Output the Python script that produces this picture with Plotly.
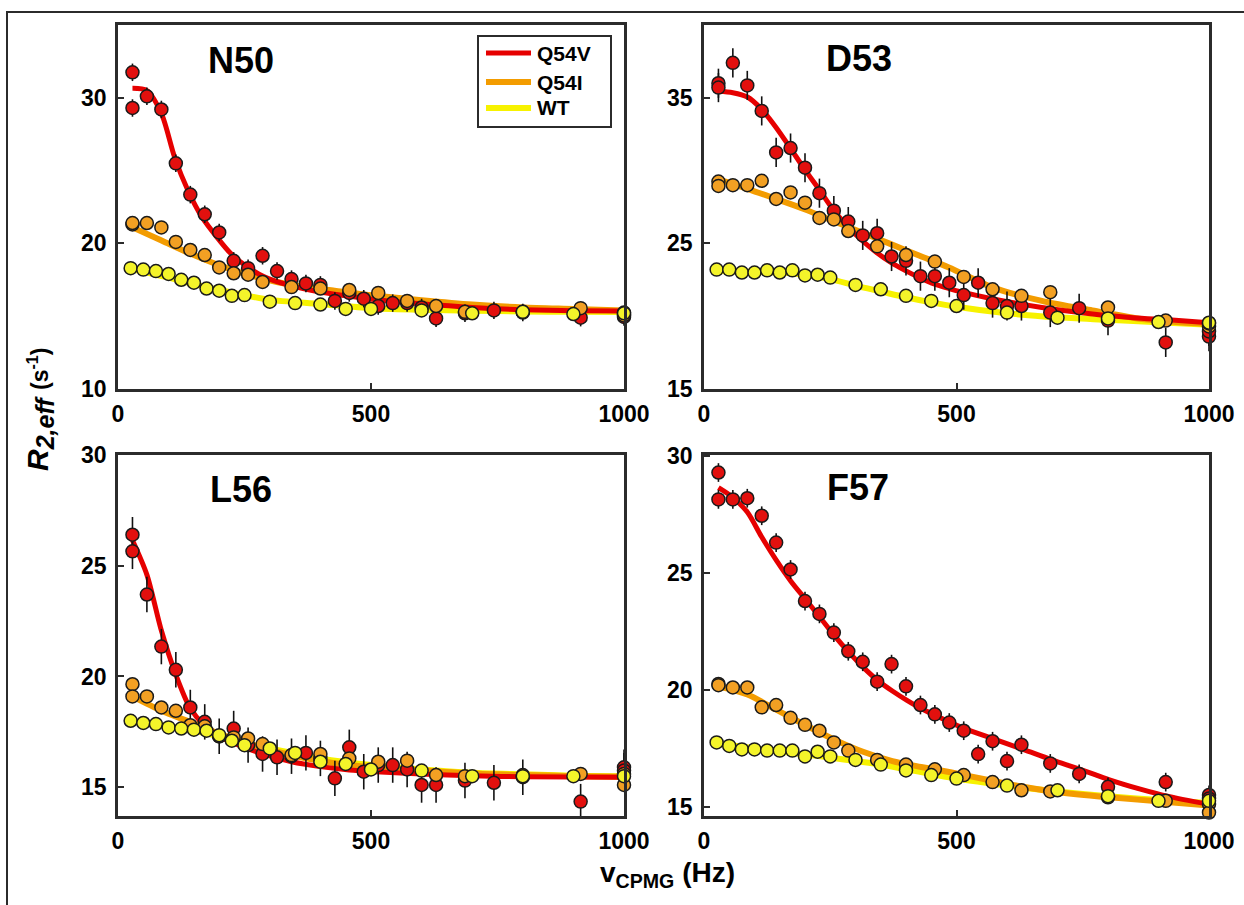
import plotly.graph_objects as go

W, H = 1244, 905
FONT = 'Arial, "Liberation Sans", sans-serif'
INK = '#2b2b2b'

# CPMG frequencies (Hz); mutants recorded with T = 35 ms, WT with T = 40 ms
X_Q54V = [28.6, 28.6, 57.1, 85.7, 114.3, 142.9, 171.4, 200.0, 228.6, 257.1, 285.7, 314.3,
          342.9, 371.4, 400.0, 428.6, 457.1, 485.7, 514.3, 542.9, 571.4, 600.0, 628.6,
          685.7, 742.9, 800.0, 914.3, 1000.0, 1000.0]
X_Q54I = [28.6, 28.6, 57.1, 85.7, 114.3, 142.9, 171.4, 200.0, 228.6, 257.1, 285.7, 342.9,
          400.0, 457.1, 514.3, 571.4, 628.6, 685.7, 800.0, 914.3, 1000.0, 1000.0]
X_WT = [25, 50, 75, 100, 125, 150, 175, 200, 225, 250, 300, 350, 400, 450, 500, 600, 700,
        800, 900, 1000]

# ---- N50
N50_Q54V = [31.75, 29.3, 30.1, 29.2, 25.5, 23.35, 22.0, 20.75, 18.8, 18.3, 19.15, 18.1, 17.55,
            17.25, 17.15, 16.05, 16.6, 16.2, 15.7, 15.9, 15.9, 15.6, 14.85, 15.2, 15.4, 15.25,
            14.9, 14.95, 15.1]
N50_Q54I = [21.3, 21.4, 21.4, 21.1, 20.1, 19.55, 19.2, 18.35, 17.95, 17.85, 17.35, 17.0, 16.9,
            16.8, 16.6, 16.05, 15.7, 15.3, 15.3, 15.55, 15.25, 15.05]
N50_WT = [18.3, 18.2, 18.1, 17.9, 17.5, 17.3, 16.9, 16.75, 16.4, 16.45, 16.0, 15.9, 15.8, 15.5,
          15.5, 15.4, 15.2, 15.3, 15.15, 15.2]
N50_FIT_Q54V_X = [28.6, 57, 86, 112, 138, 166, 195, 223, 251, 289, 336, 394, 450, 506, 600, 700, 800, 900, 1000]
N50_FIT_Q54V_Y = [30.65, 30.5, 28.9, 25.9, 23.65, 21.8, 20.45, 19.3, 18.5, 17.7, 17.15, 16.7, 16.4,
                  16.15, 15.85, 15.6, 15.45, 15.38, 15.35]
N50_FIT_Q54I_X = [28.6, 86, 143, 200, 257, 314, 371, 428, 485, 600, 700, 800, 900, 1000]
N50_FIT_Q54I_Y = [21.1, 20.2, 19.3, 18.5, 17.85, 17.35, 17.0, 16.75, 16.5, 16.1, 15.8, 15.6, 15.5, 15.4]
N50_FIT_WT_X = [25, 50, 100, 150, 200, 250, 300, 400, 500, 600, 700, 800, 900, 1000]
N50_FIT_WT_Y = [18.25, 18.05, 17.65, 17.2, 16.8, 16.45, 16.12, 15.84, 15.55, 15.45, 15.38, 15.33, 15.3, 15.28]

# ---- D53
D53_Q54V = [36.0, 35.7, 37.4, 35.85, 34.1, 31.25, 31.55, 30.2, 28.45, 27.25, 26.5, 25.55, 25.7,
            24.1, 23.8, 22.75, 22.75, 22.3, 21.45, 22.3, 20.9, 20.7, 20.7, 20.25, 20.55, 19.7,
            18.2, 18.6, 18.95]
D53_Q54I = [29.25, 28.95, 29.0, 29.0, 29.3, 28.05, 28.5, 27.8, 26.75, 26.65, 25.85, 24.8, 24.2,
            23.75, 22.7, 21.85, 21.4, 21.65, 20.6, 19.7, 19.3, 19.5]
D53_WT = [23.2, 23.2, 23.0, 23.0, 23.15, 23.0, 23.15, 22.8, 22.85, 22.65, 22.15, 21.85, 21.4,
          21.05, 20.7, 20.25, 19.9, 19.85, 19.6, 19.55]
D53_FIT_Q54V_X = [28.6, 57, 86, 113, 142, 170, 199, 227, 255, 284, 313, 341, 370, 398, 427, 457,
                  485, 512, 570, 669, 769, 850, 920, 1000]
D53_FIT_Q54V_Y = [35.45, 35.35, 35.05, 34.25, 33.0, 31.6, 30.1, 28.75, 27.35, 26.2, 25.2, 24.4,
                  23.7, 23.15, 22.65, 22.2, 21.9, 21.65, 21.2, 20.6, 20.15, 19.9, 19.75, 19.55]
D53_FIT_Q54I_X = [28.6, 86, 143, 199, 255, 313, 370, 427, 485, 570, 669, 769, 868, 1000]
D53_FIT_Q54I_Y = [29.4, 28.75, 28.05, 27.35, 26.55, 25.75, 24.95, 24.15, 23.35, 22.0, 21.05, 20.4, 19.8, 19.45]
D53_FIT_WT_X = [25, 100, 175, 250, 300, 350, 400, 450, 500, 600, 700, 800, 900, 1000]
D53_FIT_WT_Y = [23.1, 23.05, 22.95, 22.55, 22.1, 21.7, 21.3, 20.95, 20.65, 20.2, 19.92, 19.75, 19.58, 19.42]

# ---- L56
L56_Q54V = [26.4, 25.65, 23.7, 21.35, 20.3, 18.6, 17.95, 17.3, 17.65, 16.9, 16.5, 16.35, 16.4,
            16.55, 16.3, 15.4, 16.8, 15.7, 16.0, 16.0, 15.8, 15.1, 15.1, 15.3, 15.2, 15.45,
            14.35, 15.9, 15.75]
L56_Q54I = [19.65, 19.1, 19.1, 18.6, 18.45, 17.8, 17.75, 17.3, 17.25, 17.2, 16.95, 16.45, 16.5,
            16.3, 16.15, 16.2, 15.55, 15.5, 15.55, 15.6, 15.6, 15.1]
L56_WT = [18.0, 17.9, 17.85, 17.7, 17.65, 17.6, 17.55, 17.35, 17.1, 16.9, 16.75, 16.55, 16.15,
          16.05, 15.8, 15.75, 15.5, 15.5, 15.5, 15.5]
L56_FIT_Q54V_X = [28.6, 57, 86, 114, 142, 170, 199, 228, 286, 343, 400, 457, 510, 600, 700, 800, 1000]
L56_FIT_Q54V_Y = [26.15, 24.6, 22.05, 20.1, 18.6, 17.8, 17.3, 17.0, 16.5, 16.15, 15.93, 15.78,
                  15.7, 15.6, 15.52, 15.47, 15.45]
L56_FIT_Q54I_X = [28.6, 86, 142, 199, 257, 314, 371, 428, 485, 600, 700, 800, 900, 1000]
L56_FIT_Q54I_Y = [19.1, 18.45, 17.95, 17.42, 16.97, 16.6, 16.3, 16.08, 15.93, 15.75, 15.62, 15.55, 15.5, 15.47]
L56_FIT_WT_X = [25, 100, 150, 200, 250, 300, 400, 500, 600, 700, 800, 900, 1000]
L56_FIT_WT_Y = [17.95, 17.75, 17.55, 17.3, 17.0, 16.75, 16.3, 16.0, 15.8, 15.65, 15.58, 15.52, 15.5]

# ---- F57
F57_Q54V = [29.3, 28.15, 28.15, 28.2, 27.45, 26.3, 25.15, 23.8, 23.25, 22.45, 21.65, 21.2, 20.35,
            21.1, 20.15, 19.35, 18.95, 18.6, 18.25, 17.25, 17.8, 16.95, 17.65, 16.85, 16.4,
            15.85, 16.05, 15.5, 15.35]
F57_Q54I = [20.25, 20.2, 20.1, 20.1, 19.25, 19.35, 18.8, 18.5, 18.25, 17.75, 17.4, 17.0, 16.8,
            16.6, 16.35, 16.05, 15.7, 15.65, 15.4, 15.25, 15.1, 14.75]
F57_WT = [17.75, 17.6, 17.45, 17.45, 17.4, 17.4, 17.4, 17.15, 17.35, 17.15, 17.0, 16.8, 16.55,
          16.35, 16.2, 15.9, 15.7, 15.45, 15.25, 15.25]
F57_FIT_Q54V_X = [28.6, 56, 86, 114, 143, 172, 200, 228, 257, 287, 315, 344, 373, 402, 430, 459,
                  488, 515, 573, 632, 689, 745, 803, 864, 917, 1000]
F57_FIT_Q54V_Y = [28.65, 28.25, 27.6, 26.55, 25.55, 24.65, 23.9, 23.15, 22.35, 21.6, 20.97, 20.4,
                  19.95, 19.55, 19.2, 18.9, 18.6, 18.35, 17.9, 17.45, 17.0, 16.6, 16.15, 15.75,
                  15.45, 15.1]
F57_FIT_Q54I_X = [28.6, 86, 143, 200, 257, 315, 373, 430, 488, 573, 632, 689, 803, 917, 1000]
F57_FIT_Q54I_Y = [20.15, 19.8, 19.15, 18.5, 17.88, 17.35, 16.95, 16.7, 16.47, 16.1, 15.85, 15.65, 15.4, 15.2, 15.05]
F57_FIT_WT_X = [25, 100, 175, 250, 300, 350, 400, 450, 500, 600, 700, 800, 900, 1000]
F57_FIT_WT_Y = [17.7, 17.5, 17.3, 17.1, 16.95, 16.8, 16.6, 16.4, 16.2, 15.9, 15.65, 15.45, 15.28, 15.15]

# approximate error bar half-heights of the Q54V points, one per panel
ERR_Q54V = {'N50': 0.6, 'D53': 1.0, 'L56': 0.8, 'F57': 0.4}

SERIES = ['Q54V', 'Q54I', 'WT']
LINE_COLOR = {'Q54V': '#e60000', 'Q54I': '#f39c00', 'WT': '#f7f200'}
MARKER_COLOR = {'Q54V': '#e2100e', 'Q54I': '#f2a023', 'WT': '#f4f42a'}
LINE_WIDTH = {'Q54V': 5, 'Q54I': 6, 'WT': 6}
X_OF = {'Q54V': X_Q54V, 'Q54I': X_Q54I, 'WT': X_WT}

PANELS = [
    {'name': 'N50', 'ax': '', 'yrange': [10, 35], 'yticks': [10, 20, 30],
     'pts': {'Q54V': N50_Q54V, 'Q54I': N50_Q54I, 'WT': N50_WT},
     'fit': {'Q54V': (N50_FIT_Q54V_X, N50_FIT_Q54V_Y), 'Q54I': (N50_FIT_Q54I_X, N50_FIT_Q54I_Y),
             'WT': (N50_FIT_WT_X, N50_FIT_WT_Y)}},
    {'name': 'D53', 'ax': '2', 'yrange': [15, 40], 'yticks': [15, 25, 35],
     'pts': {'Q54V': D53_Q54V, 'Q54I': D53_Q54I, 'WT': D53_WT},
     'fit': {'Q54V': (D53_FIT_Q54V_X, D53_FIT_Q54V_Y), 'Q54I': (D53_FIT_Q54I_X, D53_FIT_Q54I_Y),
             'WT': (D53_FIT_WT_X, D53_FIT_WT_Y)}},
    {'name': 'L56', 'ax': '3', 'yrange': [13.7, 30], 'yticks': [15, 20, 25, 30],
     'pts': {'Q54V': L56_Q54V, 'Q54I': L56_Q54I, 'WT': L56_WT},
     'fit': {'Q54V': (L56_FIT_Q54V_X, L56_FIT_Q54V_Y), 'Q54I': (L56_FIT_Q54I_X, L56_FIT_Q54I_Y),
             'WT': (L56_FIT_WT_X, L56_FIT_WT_Y)}},
    {'name': 'F57', 'ax': '4', 'yrange': [14.6, 30.05], 'yticks': [15, 20, 25, 30],
     'pts': {'Q54V': F57_Q54V, 'Q54I': F57_Q54I, 'WT': F57_WT},
     'fit': {'Q54V': (F57_FIT_Q54V_X, F57_FIT_Q54V_Y), 'Q54I': (F57_FIT_Q54I_X, F57_FIT_Q54I_Y),
             'WT': (F57_FIT_WT_X, F57_FIT_WT_Y)}},
]

# panel boxes in page pixels: (left, right, top, bottom)
BOXES = [(118, 624, 25, 389), (704, 1209, 25, 389), (118, 624, 455, 816), (704, 1209, 455, 816)]
TITLE_POS = [(241, 60), (859, 58), (241, 489), (858, 487)]


def px(x):
    return x / W


def py(y):
    return 1 - y / H


fig = go.Figure()
layout = dict(width=W, height=H, autosize=False,
              margin=dict(l=0, r=0, t=0, b=0, pad=0, autoexpand=False), showlegend=False,
              paper_bgcolor='white', plot_bgcolor='white', font=dict(family=FONT, color='black'))
annotations = []
shapes = []

for panel, box, tpos in zip(PANELS, BOXES, TITLE_POS):
    xa, ya = 'x' + panel['ax'], 'y' + panel['ax']
    # fitted curves underneath
    for s in ['WT', 'Q54I', 'Q54V']:
        fx, fy = panel['fit'][s]
        fig.add_trace(go.Scatter(x=fx, y=fy, mode='lines', xaxis=xa, yaxis=ya,
                                 line=dict(color=LINE_COLOR[s], width=LINE_WIDTH[s], shape='spline', smoothing=0.8),
                                 hoverinfo='skip'))
    # data points
    for s in SERIES:
        err = ERR_Q54V[panel['name']] if s == 'Q54V' else 0.15
        fig.add_trace(go.Scatter(x=X_OF[s], y=panel['pts'][s], mode='markers', xaxis=xa, yaxis=ya,
                                 name=s, cliponaxis=False,
                                 error_y=dict(type='constant', value=err, color='#111', thickness=1.6, width=0),
                                 marker=dict(size=13, color=MARKER_COLOR[s], line=dict(color='#1a1a1a', width=1.5))))

    l, r, t, b = box
    axis_common = dict(showline=True, linecolor=INK, linewidth=2.5, mirror=True, showgrid=False,
                       zeroline=False, ticks='inside', ticklen=6, tickwidth=2, tickcolor=INK,
                       automargin=False,
                       tickfont=dict(family=FONT, size=23, color='black', weight='bold'))
    layout['xaxis' + panel['ax']] = dict(axis_common, domain=[px(l), px(r)], range=[0, 1000],
                                         tickvals=[0, 500, 1000], anchor=ya, ticklabelstandoff=3)
    layout['yaxis' + panel['ax']] = dict(axis_common, domain=[py(b), py(t)], range=panel['yrange'],
                                         tickvals=panel['yticks'], anchor=xa, ticklabelstandoff=4)
    annotations.append(dict(x=px(tpos[0]), y=py(tpos[1]), xref='paper', yref='paper', showarrow=False,
                            text='<b>%s</b>' % panel['name'], font=dict(family=FONT, size=36, color='black'),
                            xanchor='center', yanchor='middle'))

# legend box inside the N50 panel
shapes.append(dict(type='rect', xref='paper', yref='paper', x0=px(478), x1=px(611), y0=py(127), y1=py(36),
                   line=dict(color=INK, width=2), fillcolor='white', layer='above'))
for s, yy in zip(SERIES, [53, 82, 108]):
    shapes.append(dict(type='line', xref='paper', yref='paper', x0=px(486), x1=px(531), y0=py(yy), y1=py(yy),
                       line=dict(color=LINE_COLOR[s], width=LINE_WIDTH[s]), layer='above'))
    annotations.append(dict(x=px(535), y=py(yy), xref='paper', yref='paper', showarrow=False,
                            text='<b>%s</b>' % s, font=dict(family=FONT, size=21, color='black'),
                            xanchor='left', yanchor='middle'))

# outer frame of the figure
shapes.append(dict(type='rect', xref='paper', yref='paper', x0=px(7), x1=1.05, y0=-0.05, y1=py(12),
                   line=dict(color=INK, width=2), layer='below'))

# shared axis titles
annotations.append(dict(x=px(40), y=py(410), xref='paper', yref='paper', showarrow=False, textangle=-90,
                        xanchor='center', yanchor='middle',
                        text=('<b><i>R</i><sub><i><span style="font-size:25px">2,eff</span></i></sub>'
                              ' <span style="font-size:23px">(s<sup>-1</sup>)</span></b>'),
                        font=dict(family=FONT, size=30, color='black')))
annotations.append(dict(x=px(667), y=py(874), xref='paper', yref='paper', showarrow=False,
                        xanchor='center', yanchor='middle',
                        text='<b>v<sub>CPMG</sub> (Hz)</b>', font=dict(family=FONT, size=28, color='black')))

layout['annotations'] = annotations
layout['shapes'] = shapes
fig.update_layout(**layout)

fig.write_html("out.html", config={'displayModeBar': False, 'responsive': False},
               post_script="document.body.style.margin='0';document.body.style.overflow='hidden';")
